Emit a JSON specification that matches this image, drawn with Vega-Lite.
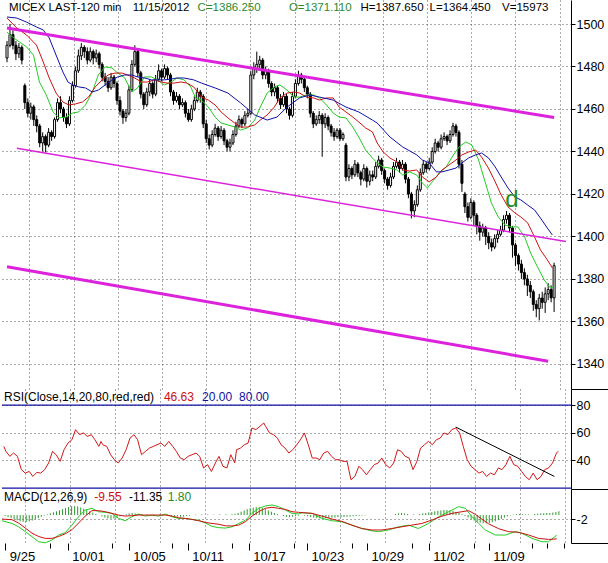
{
  "$schema": "https://vega.github.io/schema/vega-lite/v6.json",
  "padding": 0,
  "spacing": 0,
  "bounds": "flush",
  "background": "white",
  "config": {
    "view": {"stroke": null},
    "font": "Liberation Sans",
    "axis": {
      "labelFont": "Liberation Sans",
      "labelFontSize": 12.5,
      "labelColor": "black",
      "tickColor": "black",
      "domainColor": "black",
      "gridColor": "#555555",
      "gridDash": [1, 3],
      "gridOpacity": 1,
      "gridWidth": 1
    }
  },
  "datasets": {
    "candles": [
      {"i":0,"o":1484,"h":1492,"l":1482,"c":1490},
      {"i":1,"o":1490,"h":1500,"l":1489,"c":1495},
      {"i":2,"o":1495,"h":1497,"l":1488,"c":1490},
      {"i":3,"o":1490,"h":1492,"l":1483,"c":1486},
      {"i":4,"o":1486,"h":1491,"l":1484,"c":1489},
      {"i":5,"o":1489,"h":1490,"l":1481,"c":1483},
      {"i":6,"o":1471,"h":1472,"l":1460,"c":1463},
      {"i":7,"o":1463,"h":1465,"l":1456,"c":1458},
      {"i":8,"o":1458,"h":1463,"l":1455,"c":1461},
      {"i":9,"o":1461,"h":1462,"l":1452,"c":1455},
      {"i":10,"o":1455,"h":1457,"l":1449,"c":1452},
      {"i":11,"o":1452,"h":1453,"l":1442,"c":1444},
      {"i":12,"o":1444,"h":1449,"l":1440,"c":1447},
      {"i":13,"o":1447,"h":1448,"l":1439.5,"c":1443},
      {"i":14,"o":1443,"h":1451,"l":1442,"c":1449},
      {"i":15,"o":1449,"h":1450,"l":1445,"c":1447},
      {"i":16,"o":1447,"h":1456,"l":1446,"c":1455},
      {"i":17,"o":1455,"h":1465,"l":1454,"c":1463},
      {"i":18,"o":1463,"h":1466,"l":1458,"c":1460},
      {"i":19,"o":1460,"h":1461,"l":1454,"c":1456},
      {"i":20,"o":1456,"h":1458,"l":1451,"c":1453},
      {"i":21,"o":1453,"h":1466,"l":1452,"c":1464},
      {"i":22,"o":1464,"h":1473,"l":1463,"c":1471},
      {"i":23,"o":1471,"h":1480,"l":1470,"c":1478},
      {"i":24,"o":1478,"h":1488,"l":1477,"c":1485},
      {"i":25,"o":1485,"h":1491,"l":1483,"c":1489},
      {"i":26,"o":1489,"h":1490,"l":1484,"c":1487},
      {"i":27,"o":1487,"h":1489,"l":1481,"c":1483},
      {"i":28,"o":1483,"h":1489,"l":1482,"c":1487},
      {"i":29,"o":1487,"h":1488,"l":1481,"c":1484},
      {"i":30,"o":1484,"h":1488,"l":1482,"c":1486},
      {"i":31,"o":1486,"h":1487,"l":1479,"c":1481},
      {"i":32,"o":1481,"h":1482,"l":1473,"c":1475},
      {"i":33,"o":1475,"h":1477,"l":1471,"c":1473},
      {"i":34,"o":1473,"h":1475,"l":1468,"c":1470},
      {"i":35,"o":1470,"h":1477,"l":1469,"c":1475},
      {"i":36,"o":1475,"h":1476,"l":1470,"c":1472},
      {"i":37,"o":1472,"h":1473,"l":1462,"c":1464},
      {"i":38,"o":1464,"h":1466,"l":1457,"c":1459},
      {"i":39,"o":1459,"h":1460,"l":1453,"c":1456},
      {"i":40,"o":1456,"h":1460,"l":1454,"c":1458},
      {"i":41,"o":1458,"h":1471,"l":1457,"c":1469},
      {"i":42,"o":1469,"h":1483,"l":1468,"c":1481},
      {"i":43,"o":1481,"h":1490,"l":1480,"c":1487},
      {"i":44,"o":1487,"h":1488,"l":1475,"c":1477},
      {"i":45,"o":1477,"h":1478,"l":1465,"c":1467},
      {"i":46,"o":1467,"h":1468,"l":1460,"c":1462},
      {"i":47,"o":1462,"h":1470,"l":1461,"c":1468},
      {"i":48,"o":1468,"h":1474,"l":1466,"c":1472},
      {"i":49,"o":1472,"h":1473,"l":1465,"c":1467},
      {"i":50,"o":1467,"h":1476,"l":1466,"c":1474},
      {"i":51,"o":1474,"h":1481,"l":1473,"c":1478},
      {"i":52,"o":1478,"h":1479,"l":1473,"c":1475},
      {"i":53,"o":1475,"h":1481,"l":1474,"c":1479},
      {"i":54,"o":1479,"h":1480,"l":1474,"c":1476},
      {"i":55,"o":1476,"h":1477,"l":1466,"c":1468},
      {"i":56,"o":1468,"h":1469,"l":1462,"c":1464},
      {"i":57,"o":1464,"h":1468,"l":1463,"c":1466},
      {"i":58,"o":1466,"h":1467,"l":1460,"c":1462},
      {"i":59,"o":1462,"h":1465,"l":1461,"c":1463},
      {"i":60,"o":1463,"h":1464,"l":1456,"c":1458},
      {"i":61,"o":1458,"h":1460,"l":1454,"c":1455},
      {"i":62,"o":1455,"h":1462,"l":1454,"c":1460},
      {"i":63,"o":1460,"h":1466,"l":1459,"c":1464},
      {"i":64,"o":1464,"h":1470,"l":1463,"c":1468},
      {"i":65,"o":1468,"h":1469,"l":1463,"c":1466},
      {"i":66,"o":1466,"h":1467,"l":1451,"c":1453},
      {"i":67,"o":1453,"h":1455,"l":1444,"c":1446},
      {"i":68,"o":1446,"h":1448,"l":1441,"c":1443},
      {"i":69,"o":1443,"h":1450,"l":1442,"c":1448},
      {"i":70,"o":1448,"h":1453,"l":1447,"c":1451},
      {"i":71,"o":1451,"h":1452,"l":1445,"c":1447},
      {"i":72,"o":1447,"h":1452,"l":1446,"c":1450},
      {"i":73,"o":1450,"h":1451,"l":1443,"c":1445},
      {"i":74,"o":1445,"h":1446,"l":1440,"c":1442},
      {"i":75,"o":1442,"h":1446,"l":1440,"c":1444},
      {"i":76,"o":1444,"h":1450,"l":1443,"c":1448},
      {"i":77,"o":1448,"h":1454,"l":1447,"c":1452},
      {"i":78,"o":1452,"h":1457,"l":1451,"c":1455},
      {"i":79,"o":1455,"h":1456,"l":1451,"c":1453},
      {"i":80,"o":1453,"h":1459,"l":1452,"c":1457},
      {"i":81,"o":1457,"h":1460,"l":1456,"c":1458},
      {"i":82,"o":1458,"h":1478,"l":1457,"c":1476},
      {"i":83,"o":1476,"h":1482,"l":1474,"c":1479},
      {"i":84,"o":1479,"h":1487,"l":1477,"c":1481},
      {"i":85,"o":1481,"h":1485,"l":1479,"c":1483},
      {"i":86,"o":1483,"h":1484,"l":1474,"c":1476},
      {"i":87,"o":1476,"h":1480,"l":1474,"c":1478},
      {"i":88,"o":1478,"h":1479,"l":1470,"c":1472},
      {"i":89,"o":1472,"h":1473,"l":1466,"c":1468},
      {"i":90,"o":1468,"h":1472,"l":1466,"c":1470},
      {"i":91,"o":1470,"h":1471,"l":1463,"c":1465},
      {"i":92,"o":1465,"h":1467,"l":1460,"c":1462},
      {"i":93,"o":1462,"h":1468,"l":1461,"c":1466},
      {"i":94,"o":1466,"h":1467,"l":1458,"c":1460},
      {"i":95,"o":1460,"h":1461,"l":1455,"c":1457},
      {"i":96,"o":1457,"h":1468,"l":1456,"c":1466},
      {"i":97,"o":1466,"h":1474,"l":1465,"c":1472},
      {"i":98,"o":1472,"h":1478,"l":1471,"c":1476},
      {"i":99,"o":1476,"h":1477,"l":1472,"c":1474},
      {"i":100,"o":1474,"h":1475,"l":1468,"c":1470},
      {"i":101,"o":1470,"h":1471,"l":1465,"c":1467},
      {"i":102,"o":1467,"h":1468,"l":1456,"c":1458},
      {"i":103,"o":1458,"h":1459,"l":1451,"c":1453},
      {"i":104,"o":1453,"h":1457,"l":1452,"c":1455},
      {"i":105,"o":1455,"h":1459,"l":1453,"c":1457},
      {"i":106,"o":1457,"h":1458,"l":1437.5,"c":1453},
      {"i":107,"o":1453,"h":1458,"l":1451,"c":1456},
      {"i":108,"o":1456,"h":1457,"l":1450,"c":1452},
      {"i":109,"o":1452,"h":1453,"l":1447,"c":1449},
      {"i":110,"o":1449,"h":1451,"l":1445,"c":1447},
      {"i":111,"o":1447,"h":1451,"l":1446,"c":1450},
      {"i":112,"o":1450,"h":1451,"l":1445,"c":1446},
      {"i":113,"o":1446,"h":1449,"l":1445,"c":1448},
      {"i":114,"o":1443,"h":1444,"l":1426,"c":1428},
      {"i":115,"o":1428,"h":1434,"l":1426,"c":1432},
      {"i":116,"o":1432,"h":1433,"l":1427,"c":1429},
      {"i":117,"o":1429,"h":1436,"l":1428,"c":1434},
      {"i":118,"o":1434,"h":1435,"l":1428,"c":1430},
      {"i":119,"o":1430,"h":1431,"l":1424,"c":1427},
      {"i":120,"o":1427,"h":1434,"l":1426,"c":1432},
      {"i":121,"o":1432,"h":1433,"l":1423,"c":1426},
      {"i":122,"o":1426,"h":1431,"l":1424,"c":1429},
      {"i":123,"o":1429,"h":1431,"l":1426,"c":1428},
      {"i":124,"o":1428,"h":1435,"l":1427,"c":1433},
      {"i":125,"o":1433,"h":1438,"l":1432,"c":1436},
      {"i":126,"o":1436,"h":1437,"l":1429,"c":1431},
      {"i":127,"o":1431,"h":1432,"l":1425,"c":1427},
      {"i":128,"o":1427,"h":1428,"l":1422,"c":1424},
      {"i":129,"o":1424,"h":1430,"l":1423,"c":1428},
      {"i":130,"o":1428,"h":1435,"l":1427,"c":1433},
      {"i":131,"o":1433,"h":1437,"l":1432,"c":1435},
      {"i":132,"o":1435,"h":1436,"l":1430,"c":1432},
      {"i":133,"o":1432,"h":1436,"l":1431,"c":1434},
      {"i":134,"o":1434,"h":1435,"l":1425,"c":1427},
      {"i":135,"o":1427,"h":1428,"l":1418,"c":1420},
      {"i":136,"o":1420,"h":1421,"l":1408.5,"c":1412},
      {"i":137,"o":1412,"h":1417,"l":1409,"c":1415},
      {"i":138,"o":1415,"h":1424,"l":1414,"c":1422},
      {"i":139,"o":1422,"h":1432,"l":1421,"c":1430},
      {"i":140,"o":1430,"h":1436,"l":1429,"c":1434},
      {"i":141,"o":1434,"h":1435,"l":1430,"c":1432},
      {"i":142,"o":1432,"h":1437,"l":1431,"c":1435},
      {"i":143,"o":1435,"h":1442,"l":1434,"c":1440},
      {"i":144,"o":1440,"h":1446,"l":1439,"c":1444},
      {"i":145,"o":1444,"h":1445,"l":1440,"c":1442},
      {"i":146,"o":1442,"h":1448,"l":1441,"c":1446},
      {"i":147,"o":1446,"h":1449,"l":1445,"c":1447},
      {"i":148,"o":1447,"h":1448,"l":1443,"c":1445},
      {"i":149,"o":1445,"h":1450,"l":1444,"c":1448},
      {"i":150,"o":1448,"h":1453.5,"l":1447,"c":1452},
      {"i":151,"o":1452,"h":1453,"l":1447,"c":1449},
      {"i":152,"o":1449,"h":1450,"l":1432,"c":1434},
      {"i":153,"o":1434,"h":1436,"l":1421,"c":1425},
      {"i":154,"o":1420,"h":1421,"l":1411,"c":1414},
      {"i":155,"o":1414,"h":1416,"l":1407,"c":1409},
      {"i":156,"o":1409,"h":1418,"l":1408,"c":1416},
      {"i":157,"o":1416,"h":1417,"l":1405,"c":1410},
      {"i":158,"o":1410,"h":1411,"l":1401,"c":1405},
      {"i":159,"o":1405,"h":1407,"l":1398,"c":1402},
      {"i":160,"o":1402,"h":1406,"l":1400,"c":1404},
      {"i":161,"o":1404,"h":1405,"l":1396,"c":1400},
      {"i":162,"o":1400,"h":1402,"l":1394,"c":1397},
      {"i":163,"o":1397,"h":1399,"l":1393,"c":1395},
      {"i":164,"o":1395,"h":1401,"l":1394,"c":1399},
      {"i":165,"o":1399,"h":1403,"l":1397,"c":1401},
      {"i":166,"o":1401,"h":1405,"l":1400,"c":1403},
      {"i":167,"o":1403,"h":1410,"l":1402,"c":1408},
      {"i":168,"o":1408,"h":1412,"l":1406,"c":1410},
      {"i":169,"o":1410,"h":1411,"l":1402,"c":1404},
      {"i":170,"o":1404,"h":1405,"l":1390,"c":1396},
      {"i":171,"o":1396,"h":1397,"l":1386,"c":1391},
      {"i":172,"o":1391,"h":1392,"l":1384,"c":1387},
      {"i":173,"o":1387,"h":1389,"l":1380,"c":1383},
      {"i":174,"o":1383,"h":1385,"l":1377,"c":1380},
      {"i":175,"o":1380,"h":1382,"l":1372,"c":1377},
      {"i":176,"o":1377,"h":1379,"l":1371,"c":1374},
      {"i":177,"o":1374,"h":1375,"l":1365,"c":1368},
      {"i":178,"o":1368,"h":1370,"l":1362,"c":1366},
      {"i":179,"o":1366,"h":1373,"l":1360.5,"c":1371},
      {"i":180,"o":1371,"h":1374,"l":1366,"c":1369},
      {"i":181,"o":1369,"h":1376,"l":1364,"c":1373},
      {"i":182,"o":1373,"h":1378,"l":1370,"c":1375},
      {"i":183,"o":1375,"h":1377,"l":1369,"c":1371.11},
      {"i":184,"o":1371.11,"h":1387.65,"l":1364.45,"c":1386.25}
    ],
    "ma": [
      {"s":"g","i":0,"v":1496.2},{"s":"g","i":2.3,"v":1493.4},{"s":"g","i":6.6,"v":1489.2},{"s":"g","i":8.9,"v":1485.4},{"s":"g","i":10.9,"v":1472.7},{"s":"g","i":13.2,"v":1466.6},{"s":"g","i":15.5,"v":1458.6},{"s":"g","i":17.5,"v":1455.8},{"s":"g","i":19.8,"v":1456.2},{"s":"g","i":22.1,"v":1458.1},{"s":"g","i":24.1,"v":1458.6},{"s":"g","i":26.4,"v":1461.9},{"s":"g","i":28.7,"v":1468},{"s":"g","i":30.7,"v":1476},{"s":"g","i":33,"v":1479.8},{"s":"g","i":35.3,"v":1479.3},{"s":"g","i":37.3,"v":1476.9},{"s":"g","i":39.6,"v":1474.6},{"s":"g","i":42,"v":1468},{"s":"g","i":43.9,"v":1469.9},{"s":"g","i":46.3,"v":1475.1},{"s":"g","i":48.6,"v":1475.1},{"s":"g","i":50.5,"v":1473.7},{"s":"g","i":52.9,"v":1471.3},{"s":"g","i":55.2,"v":1472.7},{"s":"g","i":57.2,"v":1474.6},{"s":"g","i":59.5,"v":1473.7},{"s":"g","i":61.8,"v":1470.4},{"s":"g","i":63.4,"v":1465.2},{"s":"g","i":65.4,"v":1464.2},{"s":"g","i":67.7,"v":1460.9},{"s":"g","i":70,"v":1456.2},{"s":"g","i":72,"v":1453.4},{"s":"g","i":74.3,"v":1452.5},{"s":"g","i":76.6,"v":1451.5},{"s":"g","i":78.6,"v":1450.1},{"s":"g","i":80.9,"v":1451.1},{"s":"g","i":83.3,"v":1454.8},{"s":"g","i":85.2,"v":1460.9},{"s":"g","i":87.5,"v":1467.5},{"s":"g","i":89.9,"v":1470.4},{"s":"g","i":91.8,"v":1471.3},{"s":"g","i":94.2,"v":1468.9},{"s":"g","i":96.5,"v":1465.6},{"s":"g","i":98.4,"v":1465.6},{"s":"g","i":100.8,"v":1466.6},{"s":"g","i":103.1,"v":1466.6},{"s":"g","i":105.1,"v":1465.2},{"s":"g","i":107.4,"v":1461.9},{"s":"g","i":109.7,"v":1458.1},{"s":"g","i":111.7,"v":1456.2},{"s":"g","i":114,"v":1455.8},{"s":"g","i":116.3,"v":1451.5},{"s":"g","i":118.3,"v":1446.8},{"s":"g","i":120.6,"v":1440.7},{"s":"g","i":122.9,"v":1436.9},{"s":"g","i":124.5,"v":1434.6},{"s":"g","i":126.5,"v":1432.7},{"s":"g","i":128.8,"v":1432.2},{"s":"g","i":131.2,"v":1431.3},{"s":"g","i":133.1,"v":1428.9},{"s":"g","i":135.4,"v":1430.4},{"s":"g","i":137.8,"v":1428.9},{"s":"g","i":139.7,"v":1425.2},{"s":"g","i":141.4,"v":1422.8},{"s":"g","i":143,"v":1425.7},{"s":"g","i":145.4,"v":1429.9},{"s":"g","i":147.7,"v":1432.7},{"s":"g","i":149.7,"v":1437.4},{"s":"g","i":152,"v":1442.1},{"s":"g","i":154.3,"v":1444.5},{"s":"g","i":156.3,"v":1443.1},{"s":"g","i":158.6,"v":1436},{"s":"g","i":160.9,"v":1425.2},{"s":"g","i":162.9,"v":1415.8},{"s":"g","i":165.2,"v":1409.2},{"s":"g","i":167.5,"v":1405.4},{"s":"g","i":169.5,"v":1404.5},{"s":"g","i":171.8,"v":1404.5},{"s":"g","i":174.1,"v":1399.8},{"s":"g","i":176.1,"v":1392.2},{"s":"g","i":178.4,"v":1385.7},{"s":"g","i":180.7,"v":1379.5},{"s":"g","i":182.7,"v":1375.8},{"s":"g","i":184,"v":1376.2},
      {"s":"r","i":0,"v":1502.8},{"s":"r","i":3.3,"v":1498.1},{"s":"r","i":6.6,"v":1494.8},{"s":"r","i":9.9,"v":1490.1},{"s":"r","i":12.2,"v":1482.1},{"s":"r","i":14.2,"v":1474.6},{"s":"r","i":16.5,"v":1467.5},{"s":"r","i":18.8,"v":1463.3},{"s":"r","i":20.8,"v":1461.9},{"s":"r","i":23.1,"v":1462.4},{"s":"r","i":25.4,"v":1463.3},{"s":"r","i":27.4,"v":1465.6},{"s":"r","i":29.7,"v":1470.4},{"s":"r","i":32,"v":1473.7},{"s":"r","i":34,"v":1476},{"s":"r","i":36.3,"v":1476.9},{"s":"r","i":38.7,"v":1476.9},{"s":"r","i":40.6,"v":1476},{"s":"r","i":42.9,"v":1474.6},{"s":"r","i":45.3,"v":1472.7},{"s":"r","i":47.2,"v":1472.7},{"s":"r","i":49.6,"v":1473.7},{"s":"r","i":51.9,"v":1472.7},{"s":"r","i":53.8,"v":1472.2},{"s":"r","i":56.2,"v":1472.2},{"s":"r","i":58.5,"v":1472.7},{"s":"r","i":60.5,"v":1472.2},{"s":"r","i":62.8,"v":1470.4},{"s":"r","i":65.4,"v":1465.6},{"s":"r","i":67.7,"v":1464.2},{"s":"r","i":70,"v":1461.9},{"s":"r","i":72,"v":1458.6},{"s":"r","i":74.3,"v":1455.8},{"s":"r","i":76.6,"v":1453.4},{"s":"r","i":78.6,"v":1451.5},{"s":"r","i":80.9,"v":1451.5},{"s":"r","i":83.3,"v":1452.5},{"s":"r","i":85.2,"v":1454.8},{"s":"r","i":87.5,"v":1457.2},{"s":"r","i":89.9,"v":1460.9},{"s":"r","i":91.8,"v":1465.2},{"s":"r","i":94.2,"v":1467.5},{"s":"r","i":96.5,"v":1468},{"s":"r","i":98.4,"v":1467.5},{"s":"r","i":100.8,"v":1465.6},{"s":"r","i":103.1,"v":1465.2},{"s":"r","i":105.1,"v":1464.2},{"s":"r","i":107.4,"v":1465.2},{"s":"r","i":109.7,"v":1465.2},{"s":"r","i":111.7,"v":1460.9},{"s":"r","i":114,"v":1458.6},{"s":"r","i":116.3,"v":1456.2},{"s":"r","i":118.3,"v":1453.9},{"s":"r","i":120.6,"v":1451.1},{"s":"r","i":122.9,"v":1449.2},{"s":"r","i":124.5,"v":1444},{"s":"r","i":126.5,"v":1439.8},{"s":"r","i":128.8,"v":1436.9},{"s":"r","i":131.2,"v":1435.1},{"s":"r","i":133.1,"v":1431.3},{"s":"r","i":135.4,"v":1430.8},{"s":"r","i":137.8,"v":1431.3},{"s":"r","i":139.7,"v":1428},{"s":"r","i":142,"v":1425.7},{"s":"r","i":144.4,"v":1428},{"s":"r","i":146.3,"v":1431.3},{"s":"r","i":148.7,"v":1433.7},{"s":"r","i":151,"v":1436},{"s":"r","i":153,"v":1438.4},{"s":"r","i":155.3,"v":1439.8},{"s":"r","i":157.6,"v":1440.7},{"s":"r","i":159.6,"v":1437.4},{"s":"r","i":161.9,"v":1432.2},{"s":"r","i":164.2,"v":1425.7},{"s":"r","i":166.2,"v":1419.5},{"s":"r","i":168.5,"v":1413.9},{"s":"r","i":170.8,"v":1411.1},{"s":"r","i":172.8,"v":1409.2},{"s":"r","i":175.1,"v":1406.4},{"s":"r","i":177.4,"v":1399.8},{"s":"r","i":179.4,"v":1393.7},{"s":"r","i":181.7,"v":1389},{"s":"r","i":183.4,"v":1385.2},
      {"s":"b","i":0,"v":1503.3},{"s":"b","i":3.3,"v":1502.8},{"s":"b","i":6.6,"v":1500.9},{"s":"b","i":9.9,"v":1498.6},{"s":"b","i":12.2,"v":1497.2},{"s":"b","i":14.2,"v":1493.4},{"s":"b","i":16.5,"v":1485.4},{"s":"b","i":18.8,"v":1477.4},{"s":"b","i":20.5,"v":1472.7},{"s":"b","i":22.1,"v":1471.3},{"s":"b","i":24.1,"v":1470.4},{"s":"b","i":26.4,"v":1469.9},{"s":"b","i":28.7,"v":1468},{"s":"b","i":30.7,"v":1468.9},{"s":"b","i":33,"v":1471.3},{"s":"b","i":35.3,"v":1473.7},{"s":"b","i":37.3,"v":1475.1},{"s":"b","i":39.6,"v":1476},{"s":"b","i":42,"v":1476},{"s":"b","i":43.9,"v":1475.1},{"s":"b","i":46.3,"v":1474.6},{"s":"b","i":48.6,"v":1473.7},{"s":"b","i":50.5,"v":1473.7},{"s":"b","i":52.9,"v":1473.7},{"s":"b","i":55.2,"v":1474.1},{"s":"b","i":57.2,"v":1474.6},{"s":"b","i":59.5,"v":1474.6},{"s":"b","i":62.8,"v":1473.7},{"s":"b","i":65.4,"v":1472.2},{"s":"b","i":70,"v":1469.9},{"s":"b","i":74.3,"v":1467.5},{"s":"b","i":78.6,"v":1462.8},{"s":"b","i":83.3,"v":1457.2},{"s":"b","i":87.5,"v":1454.8},{"s":"b","i":90.8,"v":1456.2},{"s":"b","i":94.2,"v":1460.9},{"s":"b","i":96.5,"v":1463.3},{"s":"b","i":98.4,"v":1465.2},{"s":"b","i":101.8,"v":1466.6},{"s":"b","i":105.1,"v":1465.6},{"s":"b","i":109.7,"v":1464.2},{"s":"b","i":114,"v":1460.9},{"s":"b","i":118.3,"v":1458.6},{"s":"b","i":122.9,"v":1454.8},{"s":"b","i":124.5,"v":1453.4},{"s":"b","i":128.8,"v":1446.8},{"s":"b","i":133.1,"v":1442.1},{"s":"b","i":137.8,"v":1438.4},{"s":"b","i":139.7,"v":1436},{"s":"b","i":142,"v":1434.6},{"s":"b","i":144.4,"v":1430.4},{"s":"b","i":146.3,"v":1430.4},{"s":"b","i":148.7,"v":1431.3},{"s":"b","i":151,"v":1432.2},{"s":"b","i":153,"v":1434.6},{"s":"b","i":155.3,"v":1437},{"s":"b","i":157.6,"v":1438.4},{"s":"b","i":159.6,"v":1439.3},{"s":"b","i":161.9,"v":1437},{"s":"b","i":164.2,"v":1432.7},{"s":"b","i":166.2,"v":1428},{"s":"b","i":168.5,"v":1422.8},{"s":"b","i":170.8,"v":1418.6},{"s":"b","i":172.8,"v":1417.2},{"s":"b","i":175.1,"v":1414.8},{"s":"b","i":177.4,"v":1412.5},{"s":"b","i":179.4,"v":1408.7},{"s":"b","i":181.7,"v":1404},{"s":"b","i":183.4,"v":1400.7}
    ],
    "chan": [
      {"ln":"up","i":0,"p":1498.1},{"ln":"up","i":184,"p":1456.0},
      {"ln":"mid","i":3.3,"p":1441.5},{"ln":"mid","i":188,"p":1397.6},
      {"ln":"lo","i":0,"p":1385.7},{"ln":"lo","i":182,"p":1341.3}
    ],
    "rsi": [
      {"i":0.6,"v":50.1},{"i":1.3,"v":46.5},{"i":2.6,"v":42.9},{"i":3.8,"v":45.3},{"i":5.1,"v":42.9},{"i":6.4,"v":33.3},{"i":7.7,"v":30.8},{"i":9.0,"v":32.0},{"i":10.2,"v":28.4},{"i":11.5,"v":31.3},{"i":12.8,"v":30.8},{"i":14.1,"v":33.3},{"i":15.4,"v":38.1},{"i":16.7,"v":46.5},{"i":17.9,"v":44.1},{"i":19.2,"v":39.3},{"i":20.5,"v":47.7},{"i":21.8,"v":52.5},{"i":23.1,"v":54.9},{"i":24.3,"v":62.2},{"i":25.6,"v":58.6},{"i":26.9,"v":59.8},{"i":28.2,"v":57.3},{"i":29.5,"v":58.6},{"i":30.7,"v":54.9},{"i":32.0,"v":50.1},{"i":32.7,"v":53.7},{"i":33.3,"v":51.3},{"i":34.6,"v":50.1},{"i":35.9,"v":44.1},{"i":37.1,"v":40.5},{"i":38.4,"v":38.1},{"i":39.7,"v":41.7},{"i":41.0,"v":47.7},{"i":42.3,"v":56.1},{"i":43.6,"v":58.6},{"i":44.8,"v":54.9},{"i":46.1,"v":44.1},{"i":47.4,"v":46.5},{"i":48.7,"v":48.9},{"i":50.0,"v":50.1},{"i":51.2,"v":51.3},{"i":52.5,"v":52.5},{"i":53.8,"v":50.1},{"i":55.1,"v":53.7},{"i":56.4,"v":50.1},{"i":57.6,"v":46.5},{"i":58.9,"v":41.7},{"i":60.2,"v":40.5},{"i":61.5,"v":42.9},{"i":62.8,"v":44.1},{"i":64.1,"v":45.3},{"i":65.3,"v":42.9},{"i":66.6,"v":34.5},{"i":67.9,"v":36.9},{"i":69.2,"v":32.0},{"i":70.5,"v":38.1},{"i":71.7,"v":42.9},{"i":73.0,"v":35.7},{"i":74.3,"v":34.5},{"i":75.6,"v":44.1},{"i":76.9,"v":38.1},{"i":77.5,"v":47.7},{"i":78.8,"v":48.9},{"i":80.1,"v":51.3},{"i":81.3,"v":52.5},{"i":82.6,"v":63.4},{"i":83.9,"v":62.2},{"i":85.2,"v":64.6},{"i":86.5,"v":67.0},{"i":87.1,"v":64.6},{"i":88.4,"v":59.8},{"i":89.7,"v":58.6},{"i":91.0,"v":56.1},{"i":92.2,"v":51.3},{"i":93.5,"v":48.9},{"i":94.8,"v":45.3},{"i":96.1,"v":47.7},{"i":97.4,"v":51.3},{"i":98.6,"v":54.9},{"i":99.9,"v":59.8},{"i":101.2,"v":51.3},{"i":102.5,"v":41.7},{"i":103.8,"v":41.7},{"i":105.0,"v":40.5},{"i":106.3,"v":45.3},{"i":107.6,"v":46.5},{"i":108.9,"v":42.9},{"i":110.2,"v":40.5},{"i":111.4,"v":40.5},{"i":112.7,"v":39.3},{"i":114.0,"v":39.3},{"i":115.3,"v":26.0},{"i":116.6,"v":28.4},{"i":117.9,"v":35.7},{"i":119.1,"v":33.3},{"i":120.4,"v":29.6},{"i":121.7,"v":33.3},{"i":123.0,"v":36.9},{"i":124.3,"v":38.1},{"i":125.5,"v":41.7},{"i":126.8,"v":36.9},{"i":128.1,"v":34.5},{"i":129.4,"v":38.1},{"i":130.7,"v":47.7},{"i":131.9,"v":46.5},{"i":133.2,"v":42.9},{"i":134.5,"v":41.7},{"i":135.8,"v":33.3},{"i":137.1,"v":39.3},{"i":138.3,"v":48.9},{"i":139.6,"v":51.3},{"i":140.9,"v":53.7},{"i":142.2,"v":51.3},{"i":143.5,"v":54.9},{"i":144.8,"v":56.1},{"i":146.0,"v":59.8},{"i":147.3,"v":58.6},{"i":148.6,"v":62.2},{"i":149.9,"v":63.4},{"i":151.2,"v":59.8},{"i":152.4,"v":50.1},{"i":153.7,"v":40.5},{"i":155.0,"v":35.7},{"i":156.3,"v":33.3},{"i":157.6,"v":30.8},{"i":158.8,"v":32.0},{"i":160.1,"v":28.4},{"i":161.4,"v":30.8},{"i":162.7,"v":29.6},{"i":164.0,"v":34.5},{"i":165.2,"v":33.3},{"i":166.5,"v":36.9},{"i":167.8,"v":42.9},{"i":169.1,"v":36.9},{"i":170.4,"v":35.7},{"i":171.7,"v":32.0},{"i":172.9,"v":28.4},{"i":174.2,"v":26.0},{"i":175.5,"v":30.8},{"i":176.8,"v":26.0},{"i":178.1,"v":28.4},{"i":179.3,"v":33.3},{"i":180.6,"v":34.5},{"i":181.9,"v":38.1},{"i":183.2,"v":45.3},{"i":183.8,"v":46.63}
    ],
    "macd": [
      {"s":"m","i":0,"v":-2.7},{"s":"m","i":3.3,"v":-4.0},{"s":"m","i":5.5,"v":-5.6},{"s":"m","i":7.7,"v":-7.9},{"s":"m","i":9.9,"v":-10.3},{"s":"m","i":12.1,"v":-12.7},{"s":"m","i":14.3,"v":-13.2},{"s":"m","i":16.5,"v":-11.9},{"s":"m","i":18.7,"v":-9.5},{"s":"m","i":20.9,"v":-8.4},{"s":"m","i":23.1,"v":-4.8},{"s":"m","i":25.3,"v":-0.8},{"s":"m","i":27.5,"v":2.4},{"s":"m","i":29.7,"v":3.2},{"s":"m","i":31.9,"v":1.6},{"s":"m","i":34.1,"v":1.3},{"s":"m","i":36.3,"v":0.8},{"s":"m","i":38.5,"v":-1.6},{"s":"m","i":40.7,"v":-2.7},{"s":"m","i":42.9,"v":-0.8},{"s":"m","i":45.1,"v":0.5},{"s":"m","i":47.4,"v":-0.5},{"s":"m","i":49.6,"v":0},{"s":"m","i":51.8,"v":-0.5},{"s":"m","i":54,"v":0.5},{"s":"m","i":56.2,"v":-0.8},{"s":"m","i":58.4,"v":-1.6},{"s":"m","i":60.6,"v":-1.6},{"s":"m","i":62.8,"v":-2.1},{"s":"m","i":65,"v":-2.5},{"s":"m","i":67.2,"v":-3.8},{"s":"m","i":69.4,"v":-5.4},{"s":"m","i":71.6,"v":-6.0},{"s":"m","i":73.8,"v":-6.2},{"s":"m","i":76,"v":-5.6},{"s":"m","i":78.2,"v":-4.0},{"s":"m","i":80.4,"v":-2.5},{"s":"m","i":82.6,"v":0.8},{"s":"m","i":84.8,"v":3.2},{"s":"m","i":87,"v":4.3},{"s":"m","i":89.2,"v":4.8},{"s":"m","i":91.4,"v":4.0},{"s":"m","i":93.6,"v":2.4},{"s":"m","i":95.8,"v":0.8},{"s":"m","i":98,"v":0.5},{"s":"m","i":99.1,"v":1.1},{"s":"m","i":102.4,"v":0.8},{"s":"m","i":105.7,"v":-1.6},{"s":"m","i":109,"v":-2.7},{"s":"m","i":112.3,"v":-3.2},{"s":"m","i":115.6,"v":-4.8},{"s":"m","i":118.9,"v":-6.4},{"s":"m","i":122.2,"v":-7.5},{"s":"m","i":124.4,"v":-7.9},{"s":"m","i":127.7,"v":-7.1},{"s":"m","i":131,"v":-5.6},{"s":"m","i":134.3,"v":-4.8},{"s":"m","i":137.6,"v":-6.4},{"s":"m","i":140.9,"v":-4.0},{"s":"m","i":144.3,"v":-0.8},{"s":"m","i":147.6,"v":1.6},{"s":"m","i":150.9,"v":4.0},{"s":"m","i":153.1,"v":3.2},{"s":"m","i":155.3,"v":-0.8},{"s":"m","i":157.5,"v":-4.0},{"s":"m","i":159.7,"v":-7.1},{"s":"m","i":163,"v":-9.5},{"s":"m","i":166.3,"v":-9.5},{"s":"m","i":169.6,"v":-7.9},{"s":"m","i":171.8,"v":-8.7},{"s":"m","i":175.1,"v":-11.1},{"s":"m","i":178.4,"v":-12.7},{"s":"m","i":180.6,"v":-12.7},{"s":"m","i":183.3,"v":-9.55},
      {"s":"sg","i":0,"v":-1.9},{"s":"sg","i":3.3,"v":-2.2},{"s":"sg","i":5.5,"v":-3.8},{"s":"sg","i":7.7,"v":-6.2},{"s":"sg","i":9.9,"v":-8.6},{"s":"sg","i":12.1,"v":-10.2},{"s":"sg","i":14.3,"v":-11.1},{"s":"sg","i":16.5,"v":-11.1},{"s":"sg","i":18.7,"v":-10.2},{"s":"sg","i":20.9,"v":-8.9},{"s":"sg","i":23.1,"v":-7.0},{"s":"sg","i":25.3,"v":-3.8},{"s":"sg","i":27.5,"v":-0.5},{"s":"sg","i":29.7,"v":2.1},{"s":"sg","i":31.9,"v":2.1},{"s":"sg","i":34.1,"v":1.6},{"s":"sg","i":36.3,"v":0.8},{"s":"sg","i":38.5,"v":0},{"s":"sg","i":40.7,"v":-0.5},{"s":"sg","i":42.9,"v":-0.3},{"s":"sg","i":45.1,"v":0},{"s":"sg","i":54,"v":0},{"s":"sg","i":56.2,"v":-0.5},{"s":"sg","i":58.4,"v":-1.3},{"s":"sg","i":60.6,"v":-1.6},{"s":"sg","i":62.8,"v":-2.1},{"s":"sg","i":65,"v":-2.7},{"s":"sg","i":67.2,"v":-3.5},{"s":"sg","i":69.4,"v":-4.0},{"s":"sg","i":71.6,"v":-4.4},{"s":"sg","i":73.8,"v":-5.1},{"s":"sg","i":76,"v":-5.2},{"s":"sg","i":78.2,"v":-4.8},{"s":"sg","i":80.4,"v":-3.2},{"s":"sg","i":82.6,"v":-0.5},{"s":"sg","i":84.8,"v":1.6},{"s":"sg","i":87,"v":3.2},{"s":"sg","i":89.2,"v":3.7},{"s":"sg","i":91.4,"v":3.2},{"s":"sg","i":93.6,"v":2.7},{"s":"sg","i":95.8,"v":1.6},{"s":"sg","i":98,"v":1.3},{"s":"sg","i":102.4,"v":0.8},{"s":"sg","i":105.7,"v":-0.5},{"s":"sg","i":109,"v":-1.9},{"s":"sg","i":112.3,"v":-3.0},{"s":"sg","i":115.6,"v":-4.8},{"s":"sg","i":118.9,"v":-6.4},{"s":"sg","i":122.2,"v":-7.1},{"s":"sg","i":125.5,"v":-7.1},{"s":"sg","i":128.8,"v":-6.4},{"s":"sg","i":132.1,"v":-5.6},{"s":"sg","i":135.4,"v":-4.8},{"s":"sg","i":138.7,"v":-4.0},{"s":"sg","i":142,"v":-2.4},{"s":"sg","i":145.4,"v":-0.5},{"s":"sg","i":148.7,"v":0.8},{"s":"sg","i":152,"v":1.6},{"s":"sg","i":154.2,"v":2.1},{"s":"sg","i":156.4,"v":0.3},{"s":"sg","i":158.6,"v":-2.0},{"s":"sg","i":160.8,"v":-4.2},{"s":"sg","i":164.1,"v":-6.5},{"s":"sg","i":167.4,"v":-7.9},{"s":"sg","i":170.7,"v":-8.2},{"s":"sg","i":174,"v":-9.5},{"s":"sg","i":177.3,"v":-11.1},{"s":"sg","i":180.6,"v":-11.6},{"s":"sg","i":183.3,"v":-11.35}
    ],
    "hist": [
      {"i":1,"h":-0.5},{"i":2,"h":-1.0},{"i":3,"h":-1.5},{"i":4,"h":-2.0},{"i":5,"h":-2.5},{"i":6,"h":-3.0},{"i":7,"h":-3.2},{"i":8,"h":-3.3},{"i":9,"h":-3.0},{"i":10,"h":-2.6},{"i":11,"h":-2.0},{"i":12,"h":-1.4},{"i":13,"h":-0.8},{"i":14,"h":-0.3},{"i":15,"h":0.3},{"i":16,"h":0.8},{"i":17,"h":1.3},{"i":18,"h":1.8},{"i":19,"h":2.3},{"i":20,"h":2.8},{"i":21,"h":3.3},{"i":22,"h":3.8},{"i":23,"h":4.2},{"i":24,"h":4.3},{"i":25,"h":4.1},{"i":26,"h":3.6},{"i":27,"h":3.0},{"i":28,"h":2.4},{"i":29,"h":1.8},{"i":30,"h":1.2},{"i":31,"h":0.6},{"i":33,"h":-0.6},{"i":34,"h":-1.2},{"i":35,"h":-1.6},{"i":36,"h":-1.8},{"i":37,"h":-1.6},{"i":38,"h":-1.2},{"i":39,"h":-0.6},{"i":41,"h":0.4},{"i":42,"h":0.8},{"i":43,"h":1.0},{"i":44,"h":0.8},{"i":45,"h":0.5},{"i":46,"h":0.3},{"i":48,"h":0.2},{"i":50,"h":-0.2},{"i":52,"h":0.2},{"i":54,"h":0.2},{"i":56,"h":-0.3},{"i":57,"h":-0.5},{"i":58,"h":-0.7},{"i":59,"h":-0.9},{"i":60,"h":-0.8},{"i":61,"h":-0.5},{"i":62,"h":-0.3},{"i":64,"h":0.2},{"i":66,"h":0.3},{"i":68,"h":0.3},{"i":70,"h":0.2},{"i":72,"h":0.3},{"i":74,"h":0.3},{"i":76,"h":0.4},{"i":77,"h":0.6},{"i":78,"h":1.0},{"i":79,"h":1.6},{"i":80,"h":2.2},{"i":81,"h":2.8},{"i":82,"h":3.3},{"i":83,"h":3.6},{"i":84,"h":3.8},{"i":85,"h":3.7},{"i":86,"h":3.3},{"i":87,"h":2.8},{"i":88,"h":2.2},{"i":89,"h":1.6},{"i":90,"h":1.0},{"i":91,"h":0.5},{"i":93,"h":-0.5},{"i":94,"h":-0.8},{"i":95,"h":-1.0},{"i":96,"h":-0.8},{"i":97,"h":-0.5},{"i":98,"h":-0.3},{"i":100,"h":-0.3},{"i":101,"h":-0.6},{"i":102,"h":-1.0},{"i":103,"h":-1.3},{"i":104,"h":-1.5},{"i":105,"h":-1.6},{"i":106,"h":-1.6},{"i":107,"h":-1.5},{"i":108,"h":-1.4},{"i":109,"h":-1.3},{"i":110,"h":-1.2},{"i":111,"h":-1.0},{"i":112,"h":-1.0},{"i":113,"h":-0.9},{"i":114,"h":-0.8},{"i":115,"h":-0.7},{"i":116,"h":-0.6},{"i":117,"h":-0.5},{"i":118,"h":-0.4},{"i":119,"h":-0.3},{"i":120,"h":-0.2},{"i":130,"h":0.5},{"i":131,"h":0.8},{"i":132,"h":1.0},{"i":133,"h":0.8},{"i":134,"h":0.5},{"i":136,"h":0.3},{"i":138,"h":0.5},{"i":139,"h":0.8},{"i":140,"h":1.0},{"i":141,"h":1.3},{"i":142,"h":1.5},{"i":143,"h":1.8},{"i":144,"h":2.0},{"i":145,"h":2.2},{"i":146,"h":2.4},{"i":147,"h":2.4},{"i":148,"h":2.2},{"i":149,"h":2.0},{"i":150,"h":1.5},{"i":151,"h":1.0},{"i":152,"h":0.4},{"i":153,"h":-0.5},{"i":154,"h":-1.2},{"i":155,"h":-2.0},{"i":156,"h":-2.6},{"i":157,"h":-3.2},{"i":158,"h":-3.6},{"i":159,"h":-3.9},{"i":160,"h":-4.0},{"i":161,"h":-3.8},{"i":162,"h":-3.4},{"i":163,"h":-3.0},{"i":164,"h":-2.4},{"i":165,"h":-1.8},{"i":166,"h":-1.2},{"i":167,"h":-0.6},{"i":168,"h":-0.2},{"i":169,"h":0.2},{"i":170,"h":0.4},{"i":171,"h":0.5},{"i":172,"h":0.4},{"i":173,"h":0.3},{"i":174,"h":0.3},{"i":176,"h":0.5},{"i":177,"h":0.7},{"i":178,"h":0.8},{"i":179,"h":0.9},{"i":180,"h":1.0},{"i":181,"h":1.0},{"i":182,"h":1.2},{"i":183,"h":1.5},{"i":184,"h":1.8}
    ]
  },
  "vconcat": [
    {
      "width": 569,
      "height": 389,
      "layer": [
        {
          "data": {"name": "candles"},
          "mark": {"type": "rule", "color": "black", "strokeWidth": 1},
          "encoding": {
            "x": {"field": "i", "type": "quantitative", "scale": {"domain": [0, 188], "nice": false, "zero": false},
                  "axis": {"orient": "bottom", "values": [7.5, 22.4, 37.2, 52.1, 67, 81.8, 96.7, 111.6, 126.4, 141.3, 156.2, 171, 185.9], "grid": true, "labels": false, "ticks": false, "domain": false, "title": null}},
            "y": {"field": "l", "type": "quantitative", "scale": {"domain": [1328.2, 1511.3], "nice": false, "zero": false},
                  "axis": {"orient": "right", "values": [1340, 1360, 1380, 1400, 1420, 1440, 1460, 1480, 1500], "format": "d", "grid": true, "tickSize": 4, "labelPadding": 1, "title": null}},
            "y2": {"field": "h"}
          }
        },
        {
          "data": {"name": "candles"},
          "mark": {"type": "bar", "width": 2, "stroke": "black", "strokeWidth": 1},
          "encoding": {
            "x": {"field": "i", "type": "quantitative"},
            "y": {"field": "o", "type": "quantitative"},
            "y2": {"field": "c"},
            "fill": {"condition": {"test": "datum.c < datum.o", "value": "black"}, "value": "white"}
          }
        },
        {
          "data": {"name": "ma"},
          "mark": {"type": "line", "strokeWidth": 1},
          "encoding": {
            "x": {"field": "i", "type": "quantitative"},
            "y": {"field": "v", "type": "quantitative"},
            "color": {"field": "s", "type": "nominal", "scale": {"domain": ["g", "r", "b"], "range": ["#22cc22", "#cc1111", "#1111aa"]}, "legend": null}
          }
        },
        {
          "data": {"name": "chan"},
          "transform": [{"filter": "datum.ln != 'mid'"}],
          "mark": {"type": "line", "color": "#dd22dd", "strokeWidth": 3},
          "encoding": {
            "x": {"field": "i", "type": "quantitative"},
            "y": {"field": "p", "type": "quantitative"},
            "detail": {"field": "ln"}
          }
        },
        {
          "data": {"name": "chan"},
          "transform": [{"filter": "datum.ln == 'mid'"}],
          "mark": {"type": "line", "color": "#dd22dd", "strokeWidth": 1.5},
          "encoding": {
            "x": {"field": "i", "type": "quantitative"},
            "y": {"field": "p", "type": "quantitative"}
          }
        },
        {
          "data": {"values": [
            {"i": 0.66, "p": 1507.5, "t": "MICEX LAST-120 min"},
            {"i": 42.3, "p": 1507.5, "t": "11/15/2012"},
            {"i": 118.9, "p": 1507.5, "t": "H=1387.650"},
            {"i": 142.1, "p": 1507.5, "t": "L=1364.450"},
            {"i": 166.5, "p": 1507.5, "t": "V=15973"}
          ]},
          "mark": {"type": "text", "align": "left", "baseline": "middle", "fontSize": 11.5, "color": "black"},
          "encoding": {
            "x": {"field": "i", "type": "quantitative"},
            "y": {"field": "p", "type": "quantitative"},
            "text": {"field": "t"}
          }
        },
        {
          "data": {"values": [
            {"i": 64.1, "p": 1507.5, "t": "C=1386.250"},
            {"i": 94.8, "p": 1507.5, "t": "O=1371.110"}
          ]},
          "mark": {"type": "text", "align": "left", "baseline": "middle", "fontSize": 11.5, "color": "#2a8a2a"},
          "encoding": {
            "x": {"field": "i", "type": "quantitative"},
            "y": {"field": "p", "type": "quantitative"},
            "text": {"field": "t"}
          }
        },
        {
          "data": {"values": [{"i": 169.8, "p": 1414, "t": "d"}]},
          "mark": {"type": "text", "align": "center", "baseline": "alphabetic", "fontSize": 24, "color": "#228b22"},
          "encoding": {
            "x": {"field": "i", "type": "quantitative"},
            "y": {"field": "p", "type": "quantitative"},
            "text": {"field": "t"}
          }
        }
      ]
    },
    {
      "width": 569,
      "height": 100,
      "resolve": {"axis": {"y": "independent"}},
      "layer": [
        {
          "data": {"name": "rsi"},
          "mark": {"type": "line", "color": "#d01818", "strokeWidth": 1},
          "encoding": {
            "x": {"field": "i", "type": "quantitative", "scale": {"domain": [0, 188], "nice": false, "zero": false},
                  "axis": {"orient": "bottom", "values": [7.5, 22.4, 37.2, 52.1, 67, 81.8, 96.7, 111.6, 126.4, 141.3, 156.2, 171, 185.9], "grid": true, "labels": false, "ticks": false, "domain": false, "title": null}},
            "y": {"field": "v", "type": "quantitative", "scale": {"domain": [19.3, 91.6], "nice": false, "zero": false},
                  "axis": {"orient": "right", "values": [40, 60, 80], "grid": true, "tickSize": 4, "labelPadding": 1, "title": null}}
          }
        },
        {
          "data": {"values": [{"lv": 80}, {"lv": 20}]},
          "mark": {"type": "rule", "color": "#1010a0", "strokeWidth": 1.2},
          "encoding": {
            "y": {"field": "lv", "type": "quantitative", "axis": null}
          }
        },
        {
          "data": {"values": [{"i": 149.9, "v": 64.1}, {"i": 182.5, "v": 28.4}]},
          "mark": {"type": "line", "color": "black", "strokeWidth": 1},
          "encoding": {
            "x": {"field": "i", "type": "quantitative"},
            "y": {"field": "v", "type": "quantitative", "axis": null}
          }
        },
        {
          "data": {"values": [{"i": 0.66, "v": 86, "t": "RSI(Close,14,20,80,red,red)"}]},
          "mark": {"type": "text", "align": "left", "baseline": "middle", "fontSize": 12, "color": "black"},
          "encoding": {
            "x": {"field": "i", "type": "quantitative"},
            "y": {"field": "v", "type": "quantitative",
                  "axis": {"orient": "right", "values": [91.6], "tickSize": 39, "labels": false, "grid": false, "domain": false, "title": null}},
            "text": {"field": "t"}
          }
        },
        {
          "data": {"values": [{"i": 53.5, "v": 86, "t": "46.63"}]},
          "mark": {"type": "text", "align": "left", "baseline": "middle", "fontSize": 12, "color": "#cc1111"},
          "encoding": {
            "x": {"field": "i", "type": "quantitative"},
            "y": {"field": "v", "type": "quantitative", "axis": null},
            "text": {"field": "t"}
          }
        },
        {
          "data": {"values": [{"i": 66.1, "v": 86, "t": "20.00"}, {"i": 78.3, "v": 86, "t": "80.00"}]},
          "mark": {"type": "text", "align": "left", "baseline": "middle", "fontSize": 12, "color": "#1010a0"},
          "encoding": {
            "x": {"field": "i", "type": "quantitative"},
            "y": {"field": "v", "type": "quantitative", "axis": null},
            "text": {"field": "t"}
          }
        }
      ]
    },
    {
      "width": 569,
      "height": 54,
      "resolve": {"axis": {"x": "independent", "y": "independent"}},
      "layer": [
        {
          "data": {"name": "hist"},
          "mark": {"type": "rule", "color": "#2f9a2f", "strokeWidth": 1},
          "encoding": {
            "x": {"field": "i", "type": "quantitative", "scale": {"domain": [0, 188], "nice": false, "zero": false},
                  "axis": {"orient": "bottom", "values": [1.1, 21.7, 41.9, 61.4, 81.5, 100.8, 120.6, 141, 160.8],
                           "labelExpr": "datum.value < 10 ? '9/25' : datum.value < 30 ? '10/01' : datum.value < 50 ? '10/05' : datum.value < 70 ? '10/11' : datum.value < 90 ? '10/17' : datum.value < 110 ? '10/23' : datum.value < 130 ? '10/29' : datum.value < 150 ? '11/02' : '11/09'",
                           "labelAlign": "left", "labelOffset": 4, "labelFont": "Liberation Sans Narrow, Liberation Sans", "labelFontSize": 13, "labelPadding": 0,
                           "grid": false, "domain": false, "tickSize": 7, "title": null}},
            "y": {"field": "h", "type": "quantitative", "scale": {"domain": [-13.3, 12.4], "nice": false, "zero": false},
                  "axis": {"orient": "right", "values": [-2], "labelExpr": "'-2'", "grid": true, "tickSize": 4, "labelPadding": 1, "title": null}},
            "y2": {"datum": 0}
          }
        },
        {
          "mark": {"type": "rule", "color": "black", "strokeWidth": 1},
          "encoding": {
            "y": {"datum": 0, "type": "quantitative", "axis": null}
          }
        },
        {
          "data": {"name": "macd"},
          "mark": {"type": "line", "strokeWidth": 1},
          "encoding": {
            "x": {"field": "i", "type": "quantitative",
                  "axis": {"orient": "bottom", "values": [7.5, 22.4, 37.2, 52.1, 67, 81.8, 96.7, 111.6, 126.4, 141.3, 156.2, 171, 185.9], "grid": true, "labels": false, "ticks": false, "domain": false, "title": null}},
            "y": {"field": "v", "type": "quantitative", "axis": null},
            "color": {"field": "s", "type": "nominal", "scale": {"domain": ["m", "sg"], "range": ["#cc1111", "black"]}, "legend": null}
          }
        },
        {
          "data": {"values": [{"i": 0.66, "v": 8.8, "t": "MACD(12,26,9)"}, {"i": 42, "v": 8.8, "t": "-11.35"}]},
          "mark": {"type": "text", "align": "left", "baseline": "middle", "fontSize": 12, "color": "black"},
          "encoding": {
            "x": {"field": "i", "type": "quantitative",
                  "axis": {"orient": "bottom", "values": [15.9, 36.3, 56.2, 76, 96.5, 115.6, 135.4, 155.8, 175.1, 180, 185.6], "labels": false, "grid": false, "domain": false, "tickSize": 5, "title": null}},
            "y": {"field": "v", "type": "quantitative",
                  "axis": {"orient": "right", "values": [12.4, -13.3], "tickSize": 39, "labels": false, "grid": false, "domain": false, "title": null}},
            "text": {"field": "t"}
          }
        },
        {
          "data": {"values": [{"i": 30.5, "v": 8.8, "t": "-9.55"}]},
          "mark": {"type": "text", "align": "left", "baseline": "middle", "fontSize": 12, "color": "#cc1111"},
          "encoding": {
            "x": {"field": "i", "type": "quantitative", "axis": null},
            "y": {"field": "v", "type": "quantitative", "axis": null},
            "text": {"field": "t"}
          }
        },
        {
          "data": {"values": [{"i": 54.8, "v": 8.8, "t": "1.80"}]},
          "mark": {"type": "text", "align": "left", "baseline": "middle", "fontSize": 12, "color": "#2a8a2a"},
          "encoding": {
            "x": {"field": "i", "type": "quantitative", "axis": null},
            "y": {"field": "v", "type": "quantitative", "axis": null},
            "text": {"field": "t"}
          }
        }
      ]
    }
  ]
}
